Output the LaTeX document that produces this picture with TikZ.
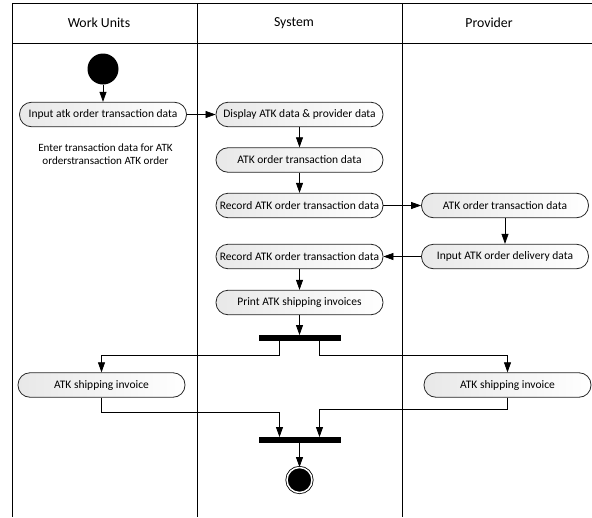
\documentclass[tikz,border=0pt]{standalone}
\usepackage{fontspec}
\setmainfont{Carlito}
\usetikzlibrary{positioning, arrows.meta}

\begin{document}
\begin{tikzpicture}[x=1pt, y=1pt,
    lane/.style={draw=black, line width=0.8pt},
    act/.style={draw=black!85, line width=0.8pt, rounded corners=12pt,
                left color=black!9, right color=white,
                minimum width=167pt, minimum height=24.5pt, inner xsep=1pt,
                font=\fontsize{11.5}{13}\selectfont},
    bar/.style={fill=black, minimum width=82pt, minimum height=5.5pt, inner sep=0pt},
    flow/.style={-{Triangle[length=10pt,width=7pt]}, line width=0.7pt},
    hdr/.style={font=\fontsize{13.8}{16}\selectfont},
    txt/.style={align=center, font=\fontsize{11.1}{13}\selectfont}
  ]
  \useasboundingbox (0,0) rectangle (592,-517);

  % lanes
  \draw[lane, line width=1.4pt] (12,-3.3) -- (592,-3.3);
  \draw[lane, line width=1.2pt] (12,-43.3) -- (592,-43.3);
  \foreach \x in {12,197,402} \draw[lane] (\x,-3.3) -- (\x,-517);
  \node[hdr] (hwork) at (99,-23) {Work Units};
  \node[hdr] (hsys)  at (294,-23) {System};
  \node[hdr] (hprov) at (489,-23) {Provider};

  % work units
  \node[circle, fill=black, minimum size=31pt, inner sep=0pt] (start) at (103,-69) {};
  \node[act] (input) at (103,-114.5) {Input atk order transaction data};
  \node[txt] (note) at (105.5,-154.5) {Enter transaction data for ATK\\orderstransaction ATK order};

  % system
  \node[act] (display)  at (299.5,-114.5) {Display ATK data \& provider data};
  \node[act] (atkdata)  at (299.5,-160)   {ATK order transaction data};
  \node[act] (record1)  at (299.5,-205.5) {Record ATK order transaction data};
  \node[act] (record2)  at (299.5,-256.5) {Record ATK order transaction data};
  \node[act] (print)    at (299.5,-302.5) {Print ATK shipping invoices};
  \node[bar] (fork) at (299.5,-338) {};

  % provider
  \node[act] (provdata) at (505,-205.5) {ATK order transaction data};
  \node[act] (delivery) at (505,-256.5) {Input ATK order delivery data};

  % invoices
  \node[act] (inv1) at (101.5,-385) {ATK shipping invoice};
  \node[act] (inv2) at (507.5,-385) {ATK shipping invoice};
  \node[bar] (join) at (299.5,-440) {};
  \node[circle, fill=black, draw=black, line width=0.8pt, double=white,
        double distance=1.5pt, minimum size=25pt, inner sep=0pt] (finish) at (299.5,-480) {};

  % flows
  \draw[flow] (start) -- (input);
  \draw[flow] (input) -- (display);
  \draw[flow] (display) -- (atkdata);
  \draw[flow] (atkdata) -- (record1);
  \draw[flow] (record1) -- (provdata);
  \draw[flow] (provdata) -- (delivery);
  \draw[flow] (delivery) -- (record2);
  \draw[flow] (record2) -- (print);
  \draw[flow] (print) -- (fork);
  \draw[flow] ([xshift=-20pt]fork.south) -- ++(0,-14) -| (inv1);
  \draw[flow] ([xshift=20pt]fork.south) -- ++(0,-14) -| (inv2);
  \draw[flow] (inv1.south) -- ++(0,-15) -| ([xshift=-20pt]join.north);
  \draw[flow] (inv2.south) -- ++(0,-12) -| ([xshift=20pt]join.north);
  \draw[flow] (join) -- (finish);
\end{tikzpicture}
\end{document}
